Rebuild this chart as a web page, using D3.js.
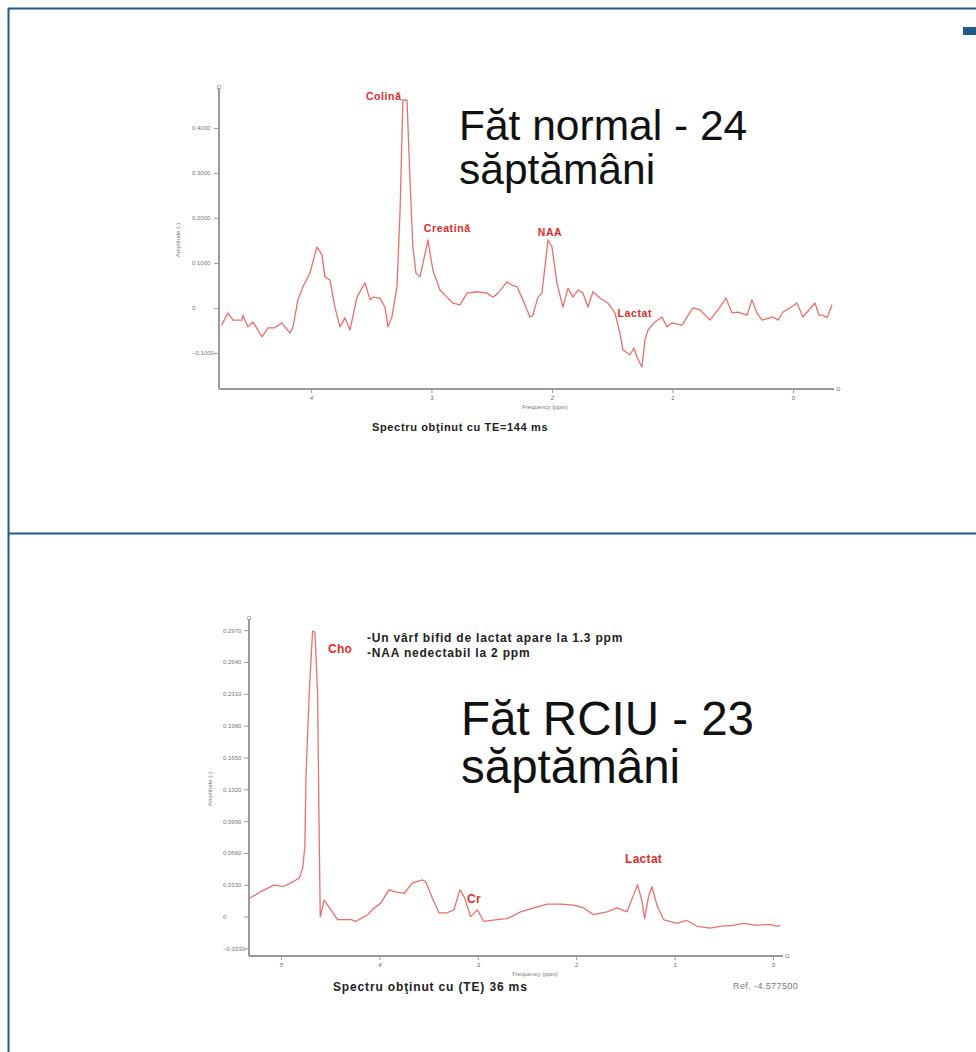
<!DOCTYPE html>
<html lang="ro">
<head>
<meta charset="UTF-8">
<title>Spectre RM fetale</title>
<script src="https://d3js.org/d3.v7.min.js"></script>
<style>
  body { margin: 0; background: #fff; }
  svg { display: block; font-family: "Liberation Sans", Arial, sans-serif; }
</style>
</head>
<body>
<svg></svg>
<script>
// --- date ---
// spectru 1: fat normal, TE=144 ms (ppm, amplitudine)
const normalPpm = [4.741, 4.689, 4.647, 4.573, 4.564, 4.523, 4.481, 4.407, 4.357, 4.299, 4.241, 4.174, 4.149, 4.108, 4.066, 4.008,
  3.950, 3.909, 3.884, 3.842, 3.801, 3.759, 3.718, 3.676, 3.618, 3.552, 3.510, 3.485, 3.427, 3.386, 3.361, 3.328, 3.286, 3.261,
  3.237, 3.203, 3.178, 3.154, 3.129, 3.095, 3.029, 2.988, 2.929, 2.871, 2.822, 2.763, 2.705, 2.622, 2.539, 2.490, 2.448, 2.373,
  2.332, 2.290, 2.241, 2.183, 2.158, 2.116, 2.083, 2.033, 2.000, 1.959, 1.909, 1.867, 1.826, 1.784, 1.743, 1.701, 1.660, 1.602,
  1.535, 1.477, 1.436, 1.411, 1.353, 1.320, 1.295, 1.253, 1.228, 1.203, 1.145, 1.087, 1.046, 1.004, 0.921, 0.830, 0.772, 0.689,
  0.622, 0.556, 0.506, 0.456, 0.382, 0.340, 0.299, 0.257, 0.166, 0.124, 0.083, 0.025, -0.033, -0.083, -0.183, -0.216, -0.249,
  -0.282, -0.324];
const normalAmp = [-0.038, -0.011, -0.027, -0.027, -0.016, -0.042, -0.031, -0.064, -0.044, -0.044, -0.033, -0.056, -0.042, 0.018, 0.047, 0.078,
  0.136, 0.118, 0.069, 0.062, 0.002, -0.042, -0.022, -0.049, 0.024, 0.056, 0.018, 0.024, 0.022, 0.002, -0.042, -0.020, 0.047, 0.211,
  0.462, 0.462, 0.284, 0.136, 0.078, 0.069, 0.151, 0.084, 0.040, 0.024, 0.011, 0.007, 0.033, 0.036, 0.033, 0.024, 0.033, 0.058,
  0.051, 0.047, 0.018, -0.020, -0.016, 0.024, 0.033, 0.151, 0.136, 0.056, 0.002, 0.044, 0.024, 0.040, 0.033, 0.002, 0.036, 0.022,
  0.011, -0.011, -0.056, -0.093, -0.104, -0.089, -0.109, -0.131, -0.071, -0.049, -0.031, -0.020, -0.042, -0.033, -0.038, 0.000, -0.004, -0.027,
  -0.004, 0.022, -0.011, -0.009, -0.016, 0.018, -0.011, -0.027, -0.020, -0.027, -0.009, 0.000, 0.011, -0.020, 0.011, -0.016, -0.016,
  -0.022, 0.007];
const normalYTicks = [0.4, 0.3, 0.2, 0.1, 0, -0.1];
const normalXTicks = [4, 3, 2, 1, 0];
const normalPeaks = ["Colină", "Creatină", "NAA", "Lactat"];
const normalPeakPpm = [3.544, 3.063, 2.118, 1.455];
const normalPeakAmp = [0.462, 0.169, 0.160, -0.020];

// spectru 2: fat RCIU, TE=36 ms
const rciuPpm = [5.321, 5.203, 5.068, 4.983, 4.899, 4.814, 4.780, 4.757, 4.746, 4.713, 4.679, 4.655, 4.628, 4.615, 4.601, 4.561,
  4.526, 4.425, 4.290, 4.239, 4.189, 4.121, 4.054, 3.986, 3.902, 3.851, 3.749, 3.664, 3.563, 3.529, 3.461, 3.395, 3.309, 3.242,
  3.182, 3.141, 3.073, 3.005, 2.938, 2.802, 2.701, 2.566, 2.431, 2.295, 2.160, 2.025, 1.924, 1.823, 1.687, 1.585, 1.484, 1.423,
  1.376, 1.332, 1.305, 1.265, 1.230, 1.180, 1.113, 0.977, 0.875, 0.774, 0.639, 0.538, 0.403, 0.301, 0.165, 0.030, -0.038, -0.071];
const rciuAmp = [0.019, 0.026, 0.033, 0.031, 0.035, 0.040, 0.050, 0.073, 0.145, 0.232, 0.296, 0.295, 0.232, 0.111, 0.000, 0.017,
  0.012, -0.003, -0.003, -0.005, -0.002, 0.002, 0.009, 0.014, 0.028, 0.026, 0.024, 0.035, 0.038, 0.036, 0.019, 0.004, 0.004, 0.007,
  0.028, 0.021, 0.000, 0.007, -0.005, -0.003, -0.002, 0.005, 0.009, 0.013, 0.013, 0.012, 0.009, 0.002, 0.005, 0.009, 0.005, 0.021,
  0.033, 0.016, -0.002, 0.021, 0.031, 0.012, -0.003, -0.007, -0.004, -0.010, -0.012, -0.010, -0.009, -0.007, -0.009, -0.008, -0.010, -0.009];
const rciuYTicks = [0.297, 0.264, 0.231, 0.198, 0.165, 0.132, 0.099, 0.066, 0.033, 0, -0.033];
const rciuXTicks = [5, 4, 3, 2, 1, 0];
const rciuPeaks = ["Cho", "Cr", "Lactat"];
const rciuPeakPpm = [4.522, 3.110, 1.504];
const rciuPeakAmp = [0.273, 0.014, 0.056];
const rciuNotes = ["-Un vârf bifid  de lactat apare la 1.3 ppm", "-NAA nedectabil  la 2 ppm"];

const width = 976, height = 1052;
const frameColor = "#1d5a8e", lineColor = "#ec6f6c", peakColor = "#e12b2b", axisColor = "#9a9a9a";

const svg = d3.select("svg").attr("width", width).attr("height", height);
svg.append("rect").attr("width", width).attr("height", height).attr("fill", "#fff");

// rama albastra
svg.append("line").attr("x1", 8).attr("x2", width).attr("y1", 8.5).attr("y2", 8.5)
  .attr("stroke", frameColor).attr("stroke-width", 2);
svg.append("line").attr("x1", 8.5).attr("x2", 8.5).attr("y1", 8).attr("y2", height)
  .attr("stroke", frameColor).attr("stroke-width", 2);
svg.append("line").attr("x1", 8).attr("x2", width).attr("y1", 533.5).attr("y2", 533.5)
  .attr("stroke", frameColor).attr("stroke-width", 2);
svg.append("rect").attr("x", 963).attr("y", 27).attr("width", 13).attr("height", 8).attr("fill", frameColor);

function drawSpectrum(cfg) {
  const x = d3.scaleLinear().domain(cfg.xDomain).range([cfg.left, cfg.right]);
  const y = d3.scaleLinear().domain(cfg.yDomain).range([cfg.bottom, cfg.top]);
  const g = svg.append("g");

  // axa Y
  const yAxis = g.append("g").attr("transform", `translate(${cfg.left},0)`)
    .call(d3.axisLeft(y).tickValues(cfg.yTicks).tickSize(5).tickSizeOuter(0)
      .tickFormat(d => d === 0 ? "0" : d3.format(".4f")(d)));
  yAxis.select(".domain").attr("stroke", axisColor).attr("stroke-width", 2)
    .attr("d", `M0,${cfg.bottom}V${cfg.top - 2}`);
  yAxis.selectAll(".tick line").attr("stroke", axisColor);
  yAxis.selectAll(".tick text").attr("text-anchor", "start").attr("x", -cfg.labelOffset)
    .attr("fill", "#777").style("font-size", "6px");

  // axa X
  const xAxis = g.append("g").attr("transform", `translate(0,${cfg.bottom})`)
    .call(d3.axisBottom(x).tickValues(cfg.xTicks).tickSize(4).tickSizeOuter(0).tickFormat(d3.format("d")));
  xAxis.select(".domain").attr("stroke", axisColor).attr("stroke-width", 2)
    .attr("d", `M${cfg.left},0H${cfg.right + 2}`);
  xAxis.selectAll(".tick line").attr("stroke", axisColor);
  xAxis.selectAll(".tick text").attr("fill", "#666").style("font-size", "6px").style("font-style", "italic");

  // marcaje mici la capetele axelor
  g.append("text").attr("x", cfg.left).attr("y", cfg.top - 2).attr("text-anchor", "middle")
    .style("font-size", "6px").attr("fill", "#777").text("Ω");
  g.append("text").attr("x", cfg.right + 4).attr("y", cfg.bottom + 2).attr("text-anchor", "start")
    .style("font-size", "6px").attr("fill", "#777").text("Ω");

  g.append("text").attr("transform", `translate(${cfg.yLabelX},${(cfg.top + cfg.bottom) / 2}) rotate(-90)`)
    .attr("text-anchor", "middle").style("font-size", "6px").attr("fill", "#777").text("Amplitude (-)");
  g.append("text").attr("x", cfg.xLabelX).attr("y", cfg.bottom + 20).attr("text-anchor", "middle")
    .style("font-size", "6px").attr("fill", "#777").text("Frequency (ppm)");

  // linia spectrului
  const pts = cfg.ppm.map((p, i) => [p, cfg.amp[i]]);
  g.append("path").datum(pts)
    .attr("fill", "none").attr("stroke", lineColor).attr("stroke-width", 1.3).attr("stroke-linejoin", "round")
    .attr("d", d3.line().x(d => x(d[0])).y(d => y(d[1])));

  // etichete de varfuri
  g.selectAll(".peak").data(cfg.peaks).join("text")
    .attr("x", (d, i) => x(cfg.peakPpm[i])).attr("y", (d, i) => y(cfg.peakAmp[i]))
    .attr("fill", peakColor).style("font-weight", "bold").style("font-size", cfg.peakSize)
    .style("letter-spacing", cfg.peakSpacing)
    .text(d => d);

  return { x, y, g };
}

// grafic 1
drawSpectrum({
  xDomain: [4.763, -0.324], yDomain: [-0.18, 0.482],
  left: 219, right: 832, top: 91, bottom: 389,
  yTicks: normalYTicks, xTicks: normalXTicks, labelOffset: 27,
  yLabelX: 180, xLabelX: 545,
  ppm: normalPpm, amp: normalAmp,
  peaks: normalPeaks, peakPpm: normalPeakPpm, peakAmp: normalPeakAmp, peakSize: "10.5px", peakSpacing: "0.6px"
});
svg.append("text").attr("x", 372).attr("y", 431).style("font-size", "11px").style("font-weight", "bold")
  .style("letter-spacing", "0.65px").attr("fill", "#222").text("Spectru obţinut cu TE=144 ms");
svg.append("text").attr("x", 459).attr("y", 140).style("font-size", "42.5px").attr("fill", "#111").text("Făt normal - 24");
svg.append("text").attr("x", 459).attr("y", 184).style("font-size", "42.5px").attr("fill", "#111").text("săptămâni");

// grafic 2
drawSpectrum({
  xDomain: [5.325, -0.081], yDomain: [-0.0408, 0.3054],
  left: 249, right: 781, top: 622, bottom: 956,
  yTicks: rciuYTicks, xTicks: rciuXTicks, labelOffset: 26,
  yLabelX: 212, xLabelX: 535,
  ppm: rciuPpm, amp: rciuAmp,
  peaks: rciuPeaks, peakPpm: rciuPeakPpm, peakAmp: rciuPeakAmp, peakSize: "12px", peakSpacing: "0.3px"
});
svg.selectAll(".note").data(rciuNotes).join("text")
  .attr("x", 367).attr("y", (d, i) => 642 + i * 15)
  .style("font-size", "12px").style("font-weight", "bold").style("letter-spacing", "0.8px")
  .attr("fill", "#222").text(d => d);
svg.append("text").attr("x", 333).attr("y", 991).style("font-size", "12px").style("font-weight", "bold")
  .style("letter-spacing", "0.85px").attr("fill", "#222").text("Spectru obţinut cu (TE) 36 ms");
svg.append("text").attr("x", 733).attr("y", 989).style("font-size", "9px").style("letter-spacing", "0.4px")
  .attr("fill", "#777").text("Ref. -4.577500");
svg.append("text").attr("x", 461).attr("y", 735).style("font-size", "47.5px").attr("fill", "#111").text("Făt RCIU - 23");
svg.append("text").attr("x", 461).attr("y", 783).style("font-size", "47.5px").attr("fill", "#111").text("săptămâni");
</script>
</body>
</html>
